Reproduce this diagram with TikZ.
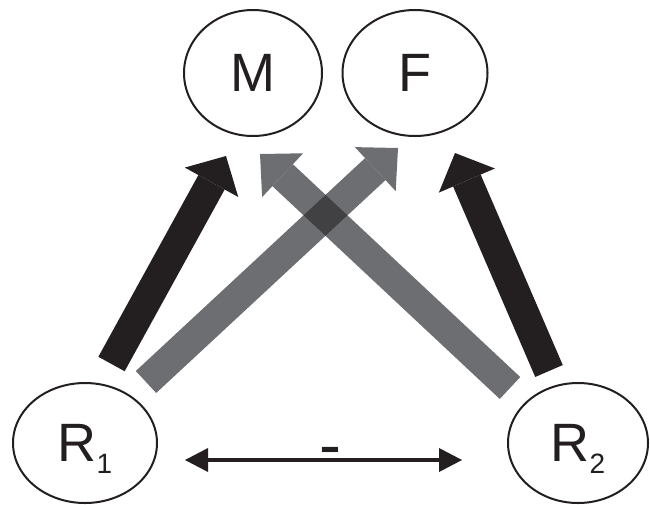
\documentclass[tikz,border=0pt]{standalone}
\usepackage{fontspec}
\setmainfont{Liberation Sans}
\usetikzlibrary{arrows.meta,shapes.geometric}
\definecolor{ink}{HTML}{231F20}
\definecolor{midgray}{HTML}{6D6E71}
\definecolor{overlapgray}{HTML}{414042}
\newcommand{\subidx}[1]{\smash{\raisebox{-12pt}{\fontsize{28}{30}\selectfont #1}}}
\begin{document}
\begin{tikzpicture}[x=1pt,y=-1pt,
  entity/.style={draw=ink, line width=2pt, ellipse, inner sep=0pt, text=ink,
                 font=\fontsize{54}{60}\selectfont},
  fatblack/.style={draw=ink, line width=30pt,
                   -{Triangle[length=30pt,width=61pt,line width=0pt]}},
  fatgray/.style={draw=midgray, line width=30pt,
                  -{Triangle[length=31pt,width=60pt,line width=0pt]}},
  thinarrow/.style={draw=ink, line width=3.5pt,
                    {Triangle[length=23pt,width=24pt,line width=0pt]}-{Triangle[length=23pt,width=24pt,line width=0pt]}},
]
\useasboundingbox (0,0) rectangle (650,504);

% nodes
\node[entity, minimum width=138pt, minimum height=126pt] (M) at (253,73) {M};
\node[entity, minimum width=145pt, minimum height=126pt] (F) at (415,73) {F};
\node[entity, minimum width=144pt, minimum height=120pt] (R1) at (85,443) {R\subidx{1}};
\node[entity, minimum width=140pt, minimum height=120pt] (R2) at (578,443) {R\subidx{2}};

% arrow end points
\coordinate (b1tail) at (111.5,364);
\coordinate (b1tip)  at (226,156);
\coordinate (b2tail) at (549,371);
\coordinate (b2tip)  at (455,153);
\coordinate (gMtail) at (510,388);
\coordinate (gMtip)  at (260,154);
\coordinate (gFtail) at (146,382);
\coordinate (gFtip)  at (398,148);
\coordinate (d1) at (185,460);
\coordinate (d2) at (462,460);

% gray crossing arrows
\draw[fatgray] (gMtail) -- (gMtip);
\draw[fatgray] (gFtail) -- (gFtip);
\fill[overlapgray] (325.5,194.9) -- (347.4,215.3) -- (325.5,235.7) -- (303.6,215.3) -- cycle;

% black arrows
\draw[fatblack] (b1tail) -- (b1tip);
\draw[fatblack] (b2tail) -- (b2tip);

% double arrow between R1 and R2
\draw[thinarrow] (d1) -- (d2);
\node[anchor=base, inner sep=0pt, text=ink, font=\fontsize{66}{70}\selectfont] (minus) at (330,467) {-};
\end{tikzpicture}
\end{document}
